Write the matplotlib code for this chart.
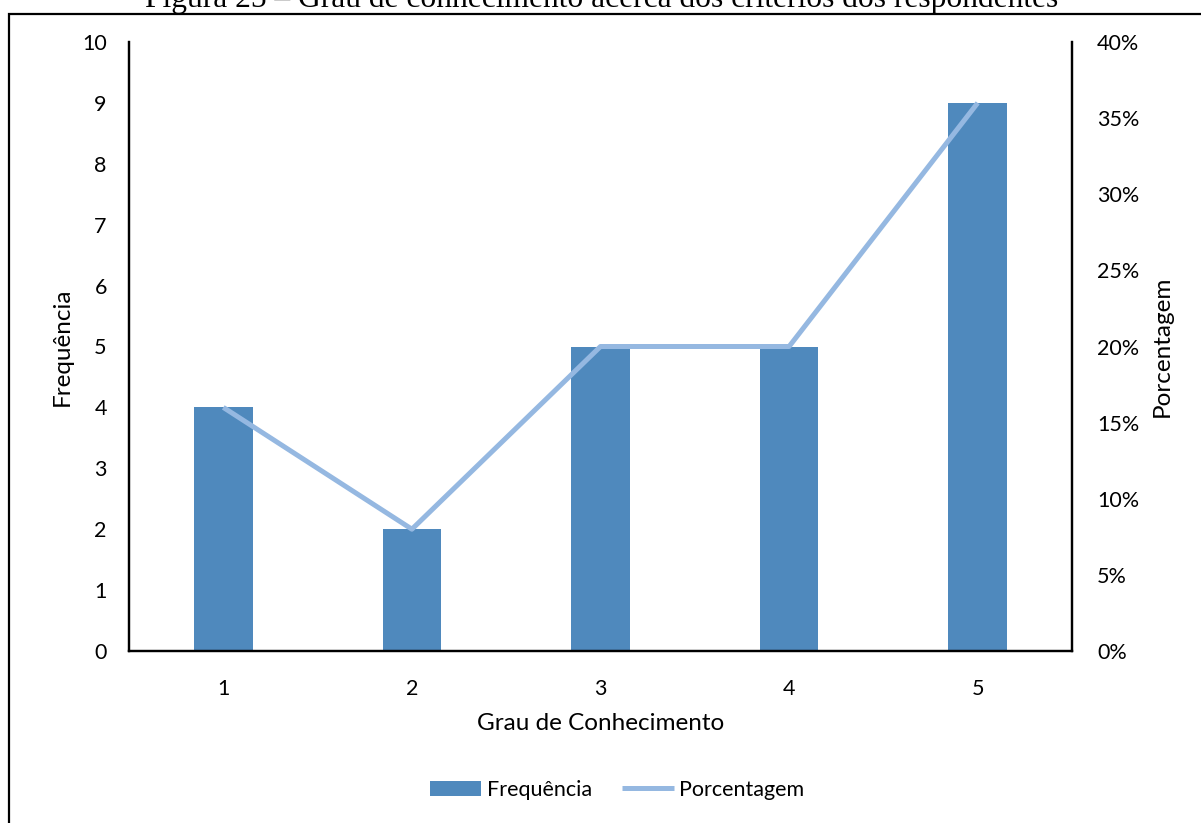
import matplotlib
matplotlib.use("Agg")
import matplotlib.pyplot as plt
from matplotlib.patches import Rectangle
from matplotlib.ticker import FuncFormatter

# Survey data: knowledge level vs. respondent count and share
categories = [1, 2, 3, 4, 5]
frequencia = [4, 2, 5, 5, 9]
porcentagem = [0.16, 0.08, 0.20, 0.20, 0.36]
y_left_ticks = list(range(0, 11))
y_right_ticks = [0.0, 0.05, 0.10, 0.15, 0.20, 0.25, 0.30, 0.35, 0.40]

BAR_COLOR = "#4f89bd"
LINE_COLOR = "#95b8e1"
FONT = ["Lato", "DejaVu Sans"]

W, H = 1201, 823
fig = plt.figure(figsize=(W / 100, H / 100), dpi=100)
plt.rcParams["font.family"] = FONT

# Frame around the chart, open at the right and bottom edges
fig.patches.append(Rectangle((9 / W, -0.2), 1.5, 1.2 - 14 / H,
                             transform=fig.transFigure, fill=False,
                             edgecolor="black", linewidth=1.6))

fig.text(602 / W, 1 - 7 / H,
         "Figura 25 – Grau de conhecimento acerca dos critérios dos respondentes",
         ha="center", va="baseline", fontsize=22.7,
         family=["Liberation Serif", "DejaVu Serif"])

left, right = 129 / W, 1072 / W
bottom, top = 1 - 651 / H, 1 - 42 / H
ax = fig.add_axes([left, bottom, right - left, top - bottom])
ax2 = ax.twinx()

ax.bar(categories, frequencia, width=0.31, color=BAR_COLOR, zorder=2,
       label="Frequência")
ax2.plot(categories, porcentagem, color=LINE_COLOR, linewidth=3.6,
         solid_capstyle="butt", label="Porcentagem", zorder=3)

ax.set_xlim(0.5, 5.5)
ax.set_ylim(0, 10)
ax2.set_ylim(0, 0.40)
ax.set_xticks(categories)
ax.set_yticks(y_left_ticks)
ax2.set_yticks(y_right_ticks)
ax2.yaxis.set_major_formatter(FuncFormatter(lambda v, _: f"{v * 100:.0f}%"))

for a in (ax, ax2):
    a.spines["top"].set_visible(False)
    for s in ("left", "right", "bottom"):
        a.spines[s].set_linewidth(1.6)
    a.tick_params(length=0, labelsize=15.5, colors="black")
ax.tick_params(axis="y", pad=16)
ax.tick_params(axis="x", pad=20)
ax2.tick_params(axis="y", pad=18)
for lab in ax2.get_yticklabels():
    lab.set_ha("left")

ax.set_xlabel("Grau de Conhecimento", fontsize=17.5, labelpad=10)
ax.set_ylabel("Frequência", fontsize=17.5, labelpad=7)
ax2.set_ylabel("Porcentagem", fontsize=17.5, labelpad=9)

ax.set_zorder(1)
ax2.set_zorder(2)
ax2.patch.set_visible(False)

h1, l1 = ax.get_legend_handles_labels()
h2, l2 = ax2.get_legend_handles_labels()
fig.legend(h1 + h2, l1 + l2, loc="center", bbox_to_anchor=(617 / W, 1 - 790 / H),
           ncol=2, frameon=False, fontsize=15.5, handlelength=2.4,
           handleheight=0.7, handletextpad=0.25, columnspacing=1.4)

fig.savefig("out.png", dpi=100)
